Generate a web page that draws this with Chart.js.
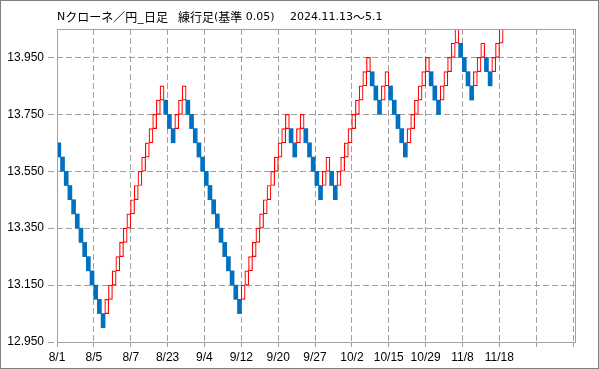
<!DOCTYPE html>
<html>
<head>
<meta charset="utf-8">
<script src="https://cdn.jsdelivr.net/npm/chart.js@4"></script>
<style>
  html, body { margin: 0; padding: 0; background: #fff; }
  canvas { display: block; }
</style>
</head>
<body>
<canvas id="renkoChart" width="599" height="369"></canvas>
<script>
// ===== datos del gráfico =====
// título en tres grupos: [texto, es CJK]
const tituloGrupos = [
  [['N', false], ['クローネ／円_日足', true]],
  [['練行足', true], ['(', false], ['基準', true], [' 0.05)', false]],
  [['2024.11.13', false], ['～', true], ['5.1', false]]
];
const tamanoLadrillo = 0.05;

// cierre de cada ladrillo (alcista = techo, bajista = piso)
const cierres = [
  13.60, 13.55, 13.50, 13.45, 13.40, 13.35, 13.30, 13.25, 13.20, 13.15, 13.10, 13.05, 13.00,
  13.10, 13.15, 13.20, 13.25, 13.30, 13.35, 13.40, 13.45, 13.50, 13.55, 13.60, 13.65, 13.70, 13.75, 13.80, 13.85,
  13.75, 13.70, 13.65,
  13.75, 13.80, 13.85,
  13.75, 13.70, 13.65, 13.60, 13.55, 13.50, 13.45, 13.40, 13.35, 13.30, 13.25, 13.20, 13.15, 13.10, 13.05,
  13.15, 13.20, 13.25, 13.30, 13.35, 13.40, 13.45, 13.50, 13.55, 13.60, 13.65, 13.70, 13.75,
  13.65, 13.60,
  13.70, 13.75,
  13.65, 13.60, 13.55, 13.50, 13.45,
  13.55, 13.60,
  13.50, 13.45,
  13.55, 13.60, 13.65, 13.70, 13.75, 13.80, 13.85, 13.90, 13.95,
  13.85, 13.80, 13.75,
  13.85, 13.90,
  13.80, 13.75, 13.70, 13.65, 13.60,
  13.70, 13.75, 13.80, 13.85, 13.90, 13.95,
  13.85, 13.80, 13.75,
  13.85, 13.90, 13.95, 14.00, 14.05,
  13.95, 13.90, 13.85, 13.80,
  13.90, 13.95, 14.00,
  13.90, 13.85,
  13.95, 14.00, 14.05
];
// dirección de cada ladrillo: 1 = alcista, 0 = bajista
const direcciones = [
  0,0,0,0,0,0,0,0,0,0,0,0,0,
  1,1,1,1,1,1,1,1,1,1,1,1,1,1,1,1,
  0,0,0,
  1,1,1,
  0,0,0,0,0,0,0,0,0,0,0,0,0,0,0,
  1,1,1,1,1,1,1,1,1,1,1,1,1,
  0,0,
  1,1,
  0,0,0,0,0,
  1,1,
  0,0,
  1,1,1,1,1,1,1,1,1,
  0,0,0,
  1,1,
  0,0,0,0,0,
  1,1,1,1,1,1,
  0,0,0,
  1,1,1,1,1,
  0,0,0,0,
  1,1,1,
  0,0,
  1,1,1
];
// etiquetas del eje X (una cada 10 ladrillos)
const fechas = ['8/1', '8/5', '8/7', '8/23', '9/4', '9/12', '9/20', '9/27', '10/2', '10/15', '10/29', '11/8', '11/18', '', ''];
const marcasY = [12.95, 13.15, 13.35, 13.55, 13.75, 13.95];
const minY = 12.95;
const maxY = 14.05;
const ladrillosPorFecha = 10;

// ===== construcción =====
const puntos = cierres.map((c, i) => {
  const abre = direcciones[i] ? c - tamanoLadrillo : c + tamanoLadrillo;
  return { x: i + 0.5, y: [abre, c] };
});
const marcasX = fechas.map((f, i) => i * ladrillosPorFecha);

const AZUL = '#0070C0';
const ROJO = '#FF0000';
const GRIS = '#a0a0a0';
const FUENTE_CJK = '12px "Noto Sans CJK JP"';
const FUENTE_LAT = '11px "DejaVu Sans"';

const marcoPlugin = {
  id: 'marco',
  afterDraw(chart) {
    const { ctx, chartArea } = chart;
    ctx.save();
    ctx.strokeStyle = GRIS;
    ctx.lineWidth = 1;
    ctx.strokeRect(chartArea.left + 0.5, chartArea.top + 0.5,
      chartArea.right - chartArea.left - 1, chartArea.bottom - chartArea.top);
    ctx.strokeStyle = '#808080';
    ctx.strokeRect(0.5, 0.5, chart.width - 1, chart.height - 1);

    // título
    ctx.fillStyle = '#000';
    ctx.textBaseline = 'middle';
    ctx.textAlign = 'left';
    const inicios = [chartArea.left, 178, 290];
    tituloGrupos.forEach((grupo, g) => {
      let x = inicios[g];
      grupo.forEach(([txt, cjk]) => {
        ctx.font = cjk ? FUENTE_CJK : FUENTE_LAT;
        ctx.fillText(txt, x, 17);
        x += ctx.measureText(txt).width;
      });
    });
    ctx.restore();
  }
};

const ctx = document.getElementById('renkoChart').getContext('2d');
const renkoChart = new Chart(ctx, {
  type: 'bar',
  data: {
    datasets: [{
      data: puntos,
      backgroundColor: direcciones.map(d => d ? '#FFFFFF' : AZUL),
      borderColor: direcciones.map(d => d ? ROJO : AZUL),
      borderWidth: direcciones.map(d => d ? 1.2 : 0),
      borderSkipped: false,
      barThickness: 4
    }]
  },
  options: {
    responsive: false,
    animation: false,
    layout: { padding: { top: 29, right: 23, left: 0, bottom: 0 } },
    plugins: {
      legend: { display: false },
      tooltip: { enabled: false }
    },
    scales: {
      x: {
        type: 'linear',
        offset: false,
        min: 0,
        max: 140.8,
        afterBuildTicks: (scale) => { scale.ticks = marcasX.map(v => ({ value: v })); },
        afterFit: (scale) => { scale.height = 27; },
        ticks: {
          autoSkip: false,
          maxRotation: 0,
          padding: 3,
          color: '#000',
          font: { family: 'Liberation Sans', size: 12 },
          callback: (v) => fechas[Math.round(v / ladrillosPorFecha)]
        },
        grid: {
          offset: false,
          color: GRIS,
          tickLength: 5,
          tickBorderDash: [6, 3]
        },
        border: { display: false, dash: [6, 3] }
      },
      y: {
        min: minY,
        max: maxY,
        afterBuildTicks: (scale) => { scale.ticks = marcasY.map(v => ({ value: v })); },
        afterFit: (scale) => { scale.width = 57; },
        ticks: {
          padding: 4,
          color: '#000',
          font: { family: 'Liberation Sans', size: 12 },
          callback: (v) => v.toFixed(3)
        },
        grid: {
          color: GRIS,
          tickLength: 9,
          tickBorderDash: [6, 3]
        },
        border: { display: false, dash: [6, 3] }
      }
    }
  },
  plugins: [marcoPlugin]
});
</script>
</body>
</html>
